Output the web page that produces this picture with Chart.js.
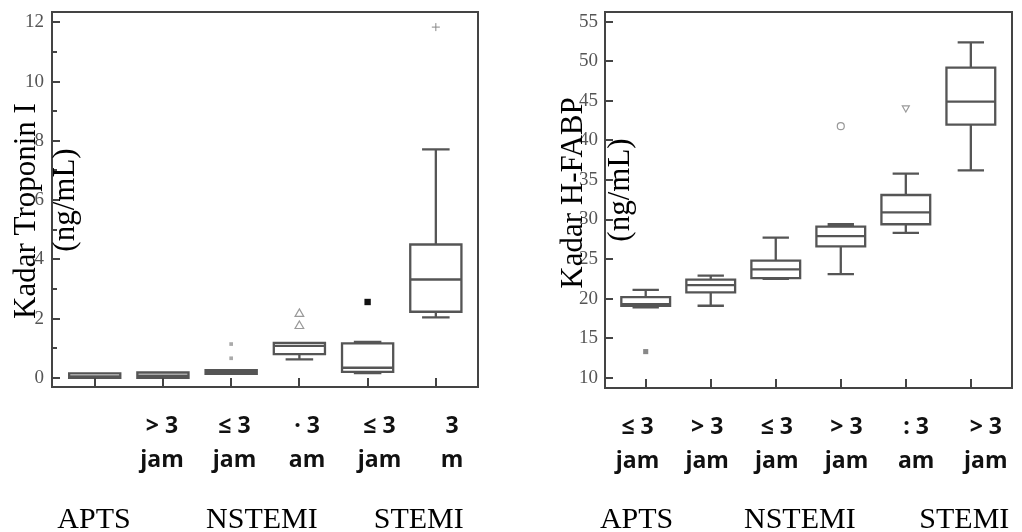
<!DOCTYPE html>
<html>
<head>
<meta charset="utf-8">
<script src="https://cdn.jsdelivr.net/npm/chart.js@4.4.0/dist/chart.umd.min.js"></script>
<style>
  html, body { margin: 0; padding: 0; background: #fff; }
  #wrap { position: relative; width: 1022px; height: 532px; overflow: hidden; }
  .panel { position: absolute; top: 0; width: 511px; height: 532px; }
</style>
</head>
<body>
<div id="wrap">
  <div class="panel" style="left:0"><canvas id="troponin" width="511" height="532"></canvas></div>
  <div class="panel" style="left:511px"><canvas id="hfabp" width="511" height="532"></canvas></div>
</div>
<script>
// Group names under the x axis
const groups = ['APTS', 'NSTEMI', 'STEMI'];

// Tick labels (onset time), as they show in the figure
const tropLabels = ['', '> 3\njam', '≤ 3\njam', '· 3\nam', '≤ 3\njam', '3\nm'];
const fabpLabels = ['≤ 3\njam', '> 3\njam', '≤ 3\njam', '> 3\njam', ': 3\nam', '> 3\njam'];

const tropYTicks = [0, 2, 4, 6, 8, 10, 12];
const tropMinorTicks = [1, 3, 5, 7, 9, 11];
const fabpYTicks = [10, 15, 20, 25, 30, 35, 40, 45, 50, 55];

// Troponin I (ng/mL): whisker low, Q1, median, Q3, whisker high
const tropLow = [0, 0, 0.13, 0.62, 0.16, 2.04];
const tropQ1 = [0, 0, 0.13, 0.80, 0.20, 2.23];
const tropMed = [0.05, 0.07, 0.19, 1.08, 0.34, 3.32];
const tropQ3 = [0.15, 0.18, 0.26, 1.18, 1.16, 4.50];
const tropHigh = [0.15, 0.18, 0.26, 1.18, 1.21, 7.71];
const tropOutliers = [[], [], [1.14, 0.66], [2.16, 1.75], [2.56], [11.84]];

// H-FABP (ng/mL)
const fabpLow = [18.9, 19.1, 22.5, 23.1, 28.3, 36.2];
const fabpQ1 = [19.1, 20.8, 22.6, 26.6, 29.4, 42.0];
const fabpMed = [19.3, 21.7, 23.7, 27.9, 30.9, 44.9];
const fabpQ3 = [20.2, 22.4, 24.8, 29.1, 33.1, 49.2];
const fabpHigh = [21.1, 22.9, 27.7, 29.4, 35.8, 52.4];
const fabpOutliers = [[13.3], [], [], [41.8], [44.1], []];

const LINE = '#555';

// box + whisker lines as one broken line dataset
function boxLines(lo, q1, med, q3, hi) {
  const hb = 0.375, hc = 0.185;
  const pts = [];
  const gap = () => ({ x: NaN, y: NaN });
  q1.forEach((_, k) => {
    const x = k + 1;
    pts.push({ x: x - hb, y: q1[k] }, { x: x + hb, y: q1[k] }, { x: x + hb, y: q3[k] },
             { x: x - hb, y: q3[k] }, { x: x - hb, y: q1[k] }, gap());
    pts.push({ x: x - hb, y: med[k] }, { x: x + hb, y: med[k] }, gap());
    pts.push({ x: x, y: q3[k] }, { x: x, y: hi[k] }, gap());
    pts.push({ x: x - hc, y: hi[k] }, { x: x + hc, y: hi[k] }, gap());
    pts.push({ x: x, y: q1[k] }, { x: x, y: lo[k] }, gap());
    pts.push({ x: x - hc, y: lo[k] }, { x: x + hc, y: lo[k] }, gap());
  });
  return {
    data: pts, showLine: true, spanGaps: false, pointRadius: 0,
    borderColor: LINE, borderWidth: 2.3, borderCapStyle: 'square', borderJoinStyle: 'miter'
  };
}

function outlierSets(outliers, styles) {
  return outliers.map((vals, k) => Object.assign({
    data: vals.map(v => ({ x: k + 1, y: v })),
    showLine: false
  }, styles[k] || {})).filter(d => d.data.length);
}

// frame, inward ticks, rotated y titles and group names
const deco = {
  id: 'deco',
  afterDraw(chart, args, opts) {
    const { ctx, chartArea: a, scales: { x, y } } = chart;
    ctx.save();
    ctx.strokeStyle = '#444';
    ctx.lineWidth = 2;
    ctx.strokeRect(a.left, a.top, a.right - a.left, a.bottom - a.top);
    ctx.beginPath();
    y.ticks.forEach(t => {
      const py = Math.round(y.getPixelForValue(t.value));
      ctx.moveTo(a.left, py); ctx.lineTo(a.left + 8, py);
    });
    (opts.minor || []).forEach(v => {
      const py = Math.round(y.getPixelForValue(v));
      ctx.moveTo(a.left, py); ctx.lineTo(a.left + 5, py);
    });
    opts.labels.forEach((_, i) => {
      const px = Math.round(x.getPixelForValue(i + 1));
      ctx.moveTo(px, a.bottom); ctx.lineTo(px, a.bottom - 9);
    });
    ctx.stroke();

    ctx.fillStyle = '#000';
    ctx.textAlign = 'center';
    ctx.textBaseline = 'alphabetic';
    ctx.font = '31px "Liberation Serif"';
    opts.title.forEach((line, i) => {
      ctx.save();
      ctx.translate(opts.titlePos[i][0], opts.titlePos[i][1]);
      ctx.rotate(-Math.PI / 2);
      ctx.fillText(line, 0, 0);
      ctx.restore();
    });
    ctx.font = '30px "Liberation Serif"';
    groups.forEach((g, i) => ctx.fillText(g, x.getPixelForValue(opts.groupAt[i]), 528));
    ctx.restore();
  }
};

function makeChart(id, cfg) {
  new Chart(document.getElementById(id), {
    type: 'scatter',
    data: { datasets: [boxLines(cfg.lo, cfg.q1, cfg.med, cfg.q3, cfg.hi)].concat(outlierSets(cfg.outliers, cfg.styles)) },
    plugins: [deco],
    options: {
      responsive: false,
      animation: false,
      events: [],
      layout: { padding: cfg.padding },
      plugins: {
        legend: { display: false },
        tooltip: { enabled: false },
        deco: {
          minor: cfg.minor, labels: cfg.labels, title: ['Kadar ' + cfg.name, '(ng/mL)'],
          titlePos: cfg.titlePos, groupAt: cfg.groupAt
        }
      },
      scales: {
        // data axis (hidden), boxes sit at 1..6
        x: { type: 'linear', display: false, min: cfg.xMin, max: cfg.xMax },
        // label axis: the time labels sit a little wider apart than the boxes
        xl: {
          type: 'linear', position: 'bottom', min: cfg.lMin, max: cfg.lMax,
          grid: { display: false, drawTicks: true, tickLength: 22 },
          border: { display: false },
          afterBuildTicks: s => { s.ticks = cfg.labels.map((_, i) => ({ value: i + 1 })); },
          afterFit: s => { s.height = cfg.xHeight; },
          ticks: {
            autoSkip: false, maxRotation: 0, padding: 0, color: '#111',
            font: { family: '"Open Sans"', weight: 'bold', size: 23, lineHeight: 1.48 },
            callback: v => cfg.labels[Math.round(v) - 1].split('\n')
          }
        },
        y: {
          type: 'linear', min: cfg.yMin, max: cfg.yMax,
          grid: { display: false, drawTicks: true, tickLength: cfg.tickGap },
          border: { display: false },
          afterBuildTicks: s => { s.ticks = cfg.yTicks.map(v => ({ value: v })); },
          afterFit: s => { s.width = 40; },
          ticks: { padding: 0, color: '#555', font: { family: '"Liberation Serif"', size: 19 } }
        }
      }
    }
  });
}

makeChart('troponin', {
  name: 'Troponin I',
  labels: tropLabels, yTicks: tropYTicks, minor: tropMinorTicks,
  lo: tropLow, q1: tropQ1, med: tropMed, q3: tropQ3, hi: tropHigh, outliers: tropOutliers,
  styles: [null, null,
    { pointStyle: 'rect', pointRadius: 2.6, backgroundColor: '#aaa', borderWidth: 0 },
    { pointStyle: 'triangle', pointRadius: 5, backgroundColor: 'rgba(0,0,0,0)', borderColor: '#999', borderWidth: 1.2 },
    { pointStyle: 'rect', pointRadius: 4.5, backgroundColor: '#111', borderWidth: 0 },
    { pointStyle: 'cross', pointRadius: 4, borderColor: '#888', borderWidth: 1 }],
  xMin: 0.374, xMax: 6.618, lMin: 0.483, lMax: 6.359, yMin: -0.31, yMax: 12.35,
  padding: { left: 12, right: 33, top: 12, bottom: 0 }, xHeight: 145, tickGap: 8,
  titlePos: [[35, 211], [74, 200]], groupAt: [0.99, 3.45, 5.75]
});

makeChart('hfabp', {
  name: 'H-FABP',
  labels: fabpLabels, yTicks: fabpYTicks, minor: [],
  lo: fabpLow, q1: fabpQ1, med: fabpMed, q3: fabpQ3, hi: fabpHigh, outliers: fabpOutliers,
  styles: [
    { pointStyle: 'rect', pointRadius: 3.6, backgroundColor: '#888', borderWidth: 0 },
    null, null,
    { pointStyle: 'circle', pointRadius: 3.5, backgroundColor: 'rgba(0,0,0,0)', borderColor: '#999', borderWidth: 1.2 },
    { pointStyle: 'triangle', rotation: 180, pointRadius: 4, backgroundColor: 'rgba(0,0,0,0)', borderColor: '#999', borderWidth: 1.2 },
    null],
  xMin: 0.374, xMax: 6.633, lMin: 0.533, lMax: 6.376, yMin: 8.70, yMax: 56.23,
  padding: { left: 54, right: 10, top: 12, bottom: 0 }, xHeight: 144, tickGap: 7,
  titlePos: [[71, 193], [118, 190]], groupAt: [0.86, 3.37, 5.9]
});
</script>
</body>
</html>
